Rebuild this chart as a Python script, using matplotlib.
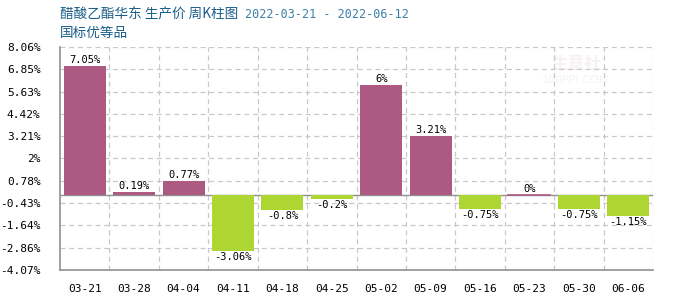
import matplotlib
matplotlib.use("Agg")
import matplotlib.pyplot as plt
import numpy as np

# weekly change data
weeks = ["03-21", "03-28", "04-04", "04-11", "04-18", "04-25",
         "05-02", "05-09", "05-16", "05-23", "05-30", "06-06"]
changes = [7.05, 0.19, 0.77, -3.06, -0.8, -0.2, 6, 3.21, -0.75, 0, -0.75, -1.15]
labels = ["7.05%", "0.19%", "0.77%", "-3.06%", "-0.8%", "-0.2%",
          "6%", "3.21%", "-0.75%", "0%", "-0.75%", "-1.15%"]
yticks = [8.06, 6.85, 5.63, 4.42, 3.21, 2, 0.78, -0.43, -1.64, -2.86, -4.07]
ytick_labels = ["8.06%", "6.85%", "5.63%", "4.42%", "3.21%", "2%",
                "0.78%", "-0.43%", "-1.64%", "-2.86%", "-4.07%"]

up_color = "#AD5A83"
down_color = "#ADD633"
mono = "DejaVu Sans Mono"
cjk = ["Noto Sans CJK SC", "DejaVu Sans"]

fig = plt.figure(figsize=(7, 3), dpi=100)
ax = fig.add_axes([60 / 700, 30 / 300, 593 / 700, 223 / 300])

x = np.arange(len(weeks))
colors = [up_color if v >= 0 else down_color for v in changes]
ax.bar(x, changes, width=0.85, color=colors, zorder=3)

# value labels
for xi, v, lab in zip(x, changes, labels):
    if v >= 0:
        ax.text(xi, v + 0.05, lab, ha="center", va="bottom", fontsize=7.5,
                family=mono, color="black", zorder=4)
    else:
        ax.text(xi, v - 0.05, lab, ha="center", va="top", fontsize=7.5,
                family=mono, color="black", zorder=4)

ax.set_xlim(-0.5, len(weeks) - 0.5)
ax.set_ylim(-4.07, 8.06)
ax.set_yticks(yticks)
ax.set_yticklabels(ytick_labels, family=mono, fontsize=8)
ax.set_xticks(x)
ax.set_xticklabels(weeks, family=mono, fontsize=8)
ax.tick_params(axis="both", length=0, colors="black")
ax.tick_params(axis="x", pad=10)
ax.tick_params(axis="y", pad=14)

# dashed grid: horizontal at ticks, vertical at category boundaries
for yv in yticks[:-1]:
    ax.axhline(yv, color="#C8C8C8", lw=0.9, ls=(0, (4, 3)), zorder=1)
for b in np.arange(0.5, len(weeks), 1.0):
    ax.axvline(b, color="#C8C8C8", lw=0.9, ls=(0, (4, 3)), zorder=1)
ax.axhline(0, color="#909090", lw=1, zorder=2)
# zero-height bar shows as a thin pink line
for xi, v in zip(x, changes):
    if v == 0:
        ax.plot([xi - 0.425, xi + 0.425], [0, 0], color=up_color, lw=1.2, zorder=3)

for side in ["top", "right"]:
    ax.spines[side].set_visible(False)
for side in ["left", "bottom"]:
    ax.spines[side].set_color("#909090")
    ax.spines[side].set_linewidth(1.2)

# watermark
ax.text(0.87, 0.925, "生意社", transform=ax.transAxes, ha="center", va="center",
        fontsize=12, family=cjk, color="#F6F0F0", zorder=0, fontweight="bold")
ax.text(0.87, 0.85, "100PPI.COM", transform=ax.transAxes, ha="center", va="center",
        fontsize=8, family="DejaVu Sans", color="#F6F3F3", zorder=0)

# title
fig.text(60 / 700, 1 - 15 / 300, "醋酸乙酯华东 生产价 周K柱图", family=cjk,
         fontsize=9.8, color="#1A5E8A", va="center", ha="left")
fig.text(245 / 700, 1 - 15 / 300, "2022-03-21 - 2022-06-12", family=mono,
         fontsize=8.5, color="#3C7FA8", va="center", ha="left")
fig.text(60 / 700, 1 - 33 / 300, "国标优等品", family=cjk,
         fontsize=9.8, color="#1A5E8A", va="center", ha="left")

fig.savefig("out.png", dpi=100)
